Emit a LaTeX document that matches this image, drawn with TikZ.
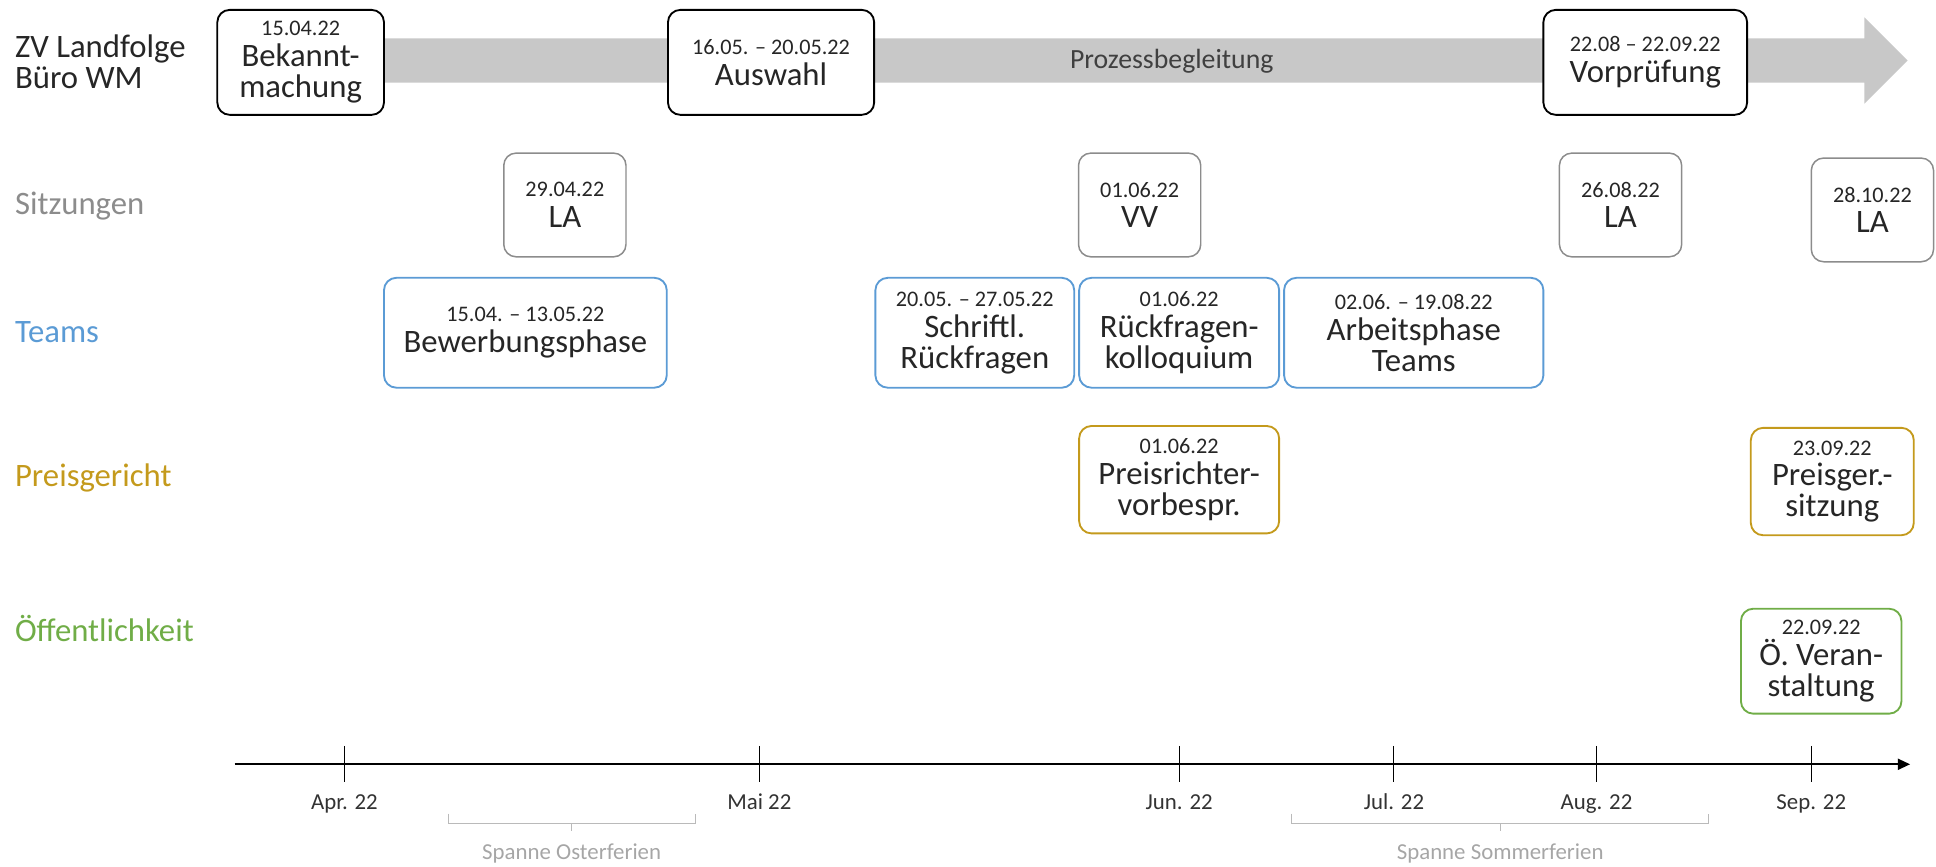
\documentclass[tikz,border=0pt]{standalone}
\usepackage{fontspec}
\setmainfont{Carlito}
\usetikzlibrary{arrows.meta}
\definecolor{grau}{HTML}{8C8C8C}
\definecolor{blau}{HTML}{5B9BD5}
\definecolor{gold}{HTML}{C49A1C}
\definecolor{gruen}{HTML}{70AD47}
\definecolor{bandgrau}{HTML}{C8C8C8}
\newcommand\datum[1]{{\fontsize{18}{25}\selectfont #1}}
\AtBeginDocument{\lineskiplimit=-30pt\relax}
\tikzset{
  termin/.style={draw, rounded corners=10pt, fill=white, align=center, inner sep=0pt,
    line width=1.5pt, text=black!85, font=\fontsize{26.5}{25}\selectfont},
  kopf/.style={termin, draw=black, minimum height=85pt},
  sitzung/.style={termin, draw=grau, line width=1.2pt, minimum width=99pt, minimum height=84pt},
  team/.style={termin, draw=blau, minimum height=89pt},
  jury/.style={termin, draw=gold, minimum height=87pt},
  oeffentl/.style={termin, draw=gruen, minimum height=85pt},
  zeile/.style={anchor=west, align=left, inner sep=0pt,
    font=\fontsize{26.5}{25}\selectfont},
  monat/.style={anchor=base, text=black!80, font=\fontsize{18.5}{20}\selectfont},
  ferien/.style={draw=black!27, line width=1pt},
  ferientext/.style={anchor=base, text=black!35, font=\fontsize{18.5}{20}\selectfont}
}
\begin{document}
\begin{tikzpicture}[x=1pt, y=-1pt]
  \useasboundingbox (0,0) rectangle (1568,702);

  \fill[bandgrau] (243,31) -- (1510,31) -- (1510,14) -- (1545,49)
    -- (1510,84) -- (1510,67) -- (243,67) -- cycle;
  \node[text=black!75, font=\fontsize{22.5}{25}\selectfont] (prozess) at (949,50) {Prozessbegleitung};

  \node[zeile, text=black!85] (buero) at (12,50) {ZV Landfolge\\Büro WM};
  \node[zeile, text=grau] (sitzungen) at (12,167) {Sitzungen};
  \node[zeile, text=blau] (teams) at (12,269) {Teams};
  \node[zeile, text=gold] (preisgericht) at (12,387) {Preisgericht};
  \node[zeile, text=gruen] (oeffentlichkeit) at (12,509) {Öffentlichkeit};

  \node[kopf, minimum width=135pt] (bekannt) at (243.5,50.5) {\datum{15.04.22}\\Bekannt-\\machung};
  \node[kopf, minimum width=167pt] (auswahl) at (624.5,50.5) {\datum{16.05. – 20.05.22}\\Auswahl};
  \node[kopf, minimum width=165pt] (vorpruef) at (1332.5,50.5) {\datum{22.08 – 22.09.22}\\Vorprüfung};

  \node[sitzung] (la1) at (457.5,166) {\datum{29.04.22}\\LA};
  \node[sitzung] (vv) at (923,166) {\datum{01.06.22}\\VV};
  \node[sitzung] (la2) at (1312.5,166) {\datum{26.08.22}\\LA};
  \node[sitzung] (la3) at (1516.5,170) {\datum{28.10.22}\\LA};

  \node[team, minimum width=229pt] (bewerbung) at (425.5,269.5) {\datum{15.04. – 13.05.22}\\Bewerbungsphase};
  \node[team, minimum width=161pt] (schriftl) at (789.5,269.5) {\datum{20.05. – 27.05.22}\\Schriftl.\\Rückfragen};
  \node[team, minimum width=162pt] (kolloquium) at (955,269.5) {\datum{01.06.22}\\Rückfragen-\\kolloquium};
  \node[team, minimum width=210pt] (arbeit) at (1145,269.5) {\datum{02.06. – 19.08.22}\\Arbeitsphase\\Teams};

  \node[jury, minimum width=162pt] (vorbespr) at (955,388.5) {\datum{01.06.22}\\Preisrichter-\\vorbespr.};
  \node[jury, minimum width=132pt] (preissitz) at (1484,390) {\datum{23.09.22}\\Preisger.-\\sitzung};

  \node[oeffentl, minimum width=130pt] (veranst) at (1475,535.5) {\datum{22.09.22}\\Ö. Veran-\\staltung};

  \coordinate (achseA) at (190,619);
  \coordinate (achseB) at (1547,619);
  \draw[line width=1.5pt, -{Triangle[length=10pt, width=9pt]}] (achseA) -- (achseB);
  \foreach \x/\m [count=\i] in {279/Apr. 22, 615/Mai 22, 955/Jun. 22, 1129/Jul. 22, 1293/Aug. 22, 1467/Sep. 22} {
    \draw[line width=0.8pt] (\x,604) -- (\x,633);
    \node[monat] (m\i) at (\x,656) {\m};
  }

  \draw[ferien] (363,659) -- (363,667) -- (563,667) -- (563,659) (463,667) -- (463,673);
  \node[ferientext] (oster) at (463,696) {Spanne Osterferien};
  \draw[ferien] (1046,659) -- (1046,667) -- (1384,667) -- (1384,659) (1215,667) -- (1215,673);
  \node[ferientext] (sommer) at (1215,696) {Spanne Sommerferien};
\end{tikzpicture}
\end{document}
